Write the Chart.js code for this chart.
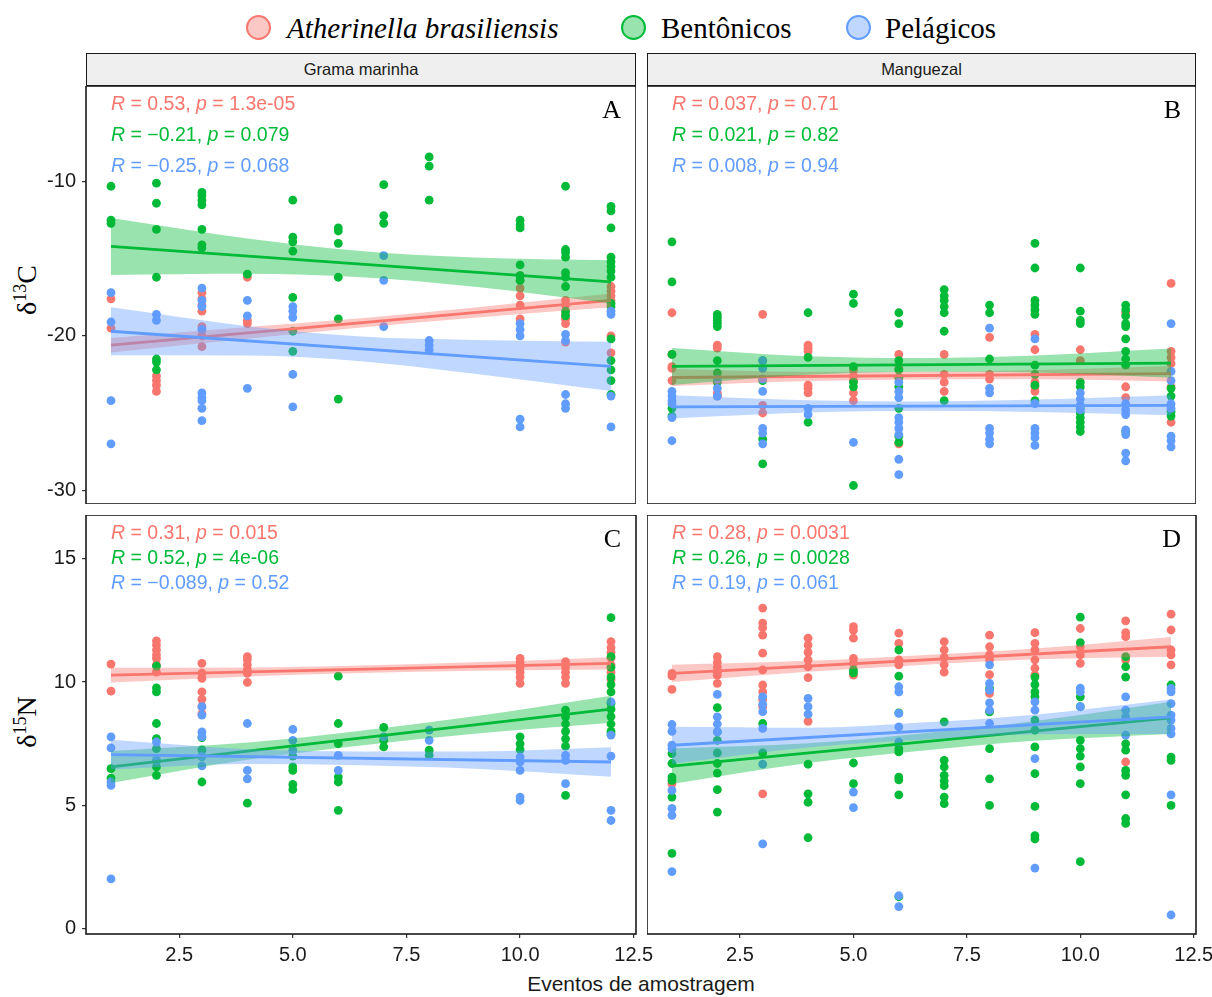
<!DOCTYPE html>
<html>
<head>
<meta charset="utf-8">
<script src="https://cdn.jsdelivr.net/npm/chart.js@4.4.1/dist/chart.umd.min.js"></script>
<style>
  html, body { margin: 0; padding: 0; background: #fff; overflow: hidden; }
  #page { position: relative; width: 1212px; height: 997px; }
  canvas { position: absolute; }
  .strip {
    position: absolute; top: 53px; height: 33px; box-sizing: border-box;
    background: #efefef; border: 1.5px solid #1a1a1a; color: #1a1a1a;
    font: 16.5px "Liberation Sans", Arial, sans-serif; text-align: center; line-height: 30px;
  }
  .dot { position: absolute; top: 15px; width: 21px; height: 21px; border-radius: 50%; border: 2.5px solid; }
  .ltext { position: absolute; top: 13px; font: 29px "Liberation Serif", "Times New Roman", serif; line-height: 30px; color: #000; white-space: nowrap; }
  .ytitle {
    position: absolute; left: -29px; width: 120px; height: 40px; line-height: 40px; text-align: center;
    font: 28px "Liberation Serif", "Times New Roman", serif; color: #000; transform: rotate(-90deg);
  }
  .ytitle sup { font-size: 18px; vertical-align: 10px; line-height: 0; }
  .xtitle {
    position: absolute; left: 441px; width: 400px; top: 972px; text-align: center; line-height: 26px;
    font: 21px "Liberation Sans", Arial, sans-serif; color: #1a1a1a;
  }
</style>
</head>
<body>
<div id="page">
  <span class="dot" style="left:246px; border-color:#F8766D; background:rgba(248,118,109,0.4)"></span>
  <span class="ltext" style="left:287px; font-style:italic">Atherinella brasiliensis</span>
  <span class="dot" style="left:621px; border-color:#00BA38; background:rgba(0,186,56,0.4)"></span>
  <span class="ltext" style="left:661px">Bentônicos</span>
  <span class="dot" style="left:846px; border-color:#619CFF; background:rgba(97,156,255,0.4)"></span>
  <span class="ltext" style="left:885px">Pelágicos</span>

  <div class="strip" style="left:86px; width:550px">Grama marinha</div>
  <div class="strip" style="left:647px; width:549px">Manguezal</div>

  <div class="ytitle" style="top:270px">δ<sup>13</sup>C</div>
  <div class="ytitle" style="top:702px">δ<sup>15</sup>N</div>
  <div class="xtitle">Eventos de amostragem</div>

  <canvas id="chartA"></canvas>
  <canvas id="chartB"></canvas>
  <canvas id="chartC"></canvas>
  <canvas id="chartD"></canvas>
</div>

<script>
// sampling events (index i -> event i + 1)
const events = [1, 2, 3, 4, 5, 6, 7, 8, 9, 10, 11, 12];
const xTicks = [2.5, 5, 7.5, 10, 12.5];
const yTicksC = [-30, -20, -10];
const yTicksN = [0, 5, 10, 15];

// ---- δ13C, Grama marinha (panel A) ----
const gramaC_ath = [[-17.6, -19.5], [-22.6, -22.9, -23.2, -23.6], [-17.2, -17.6, -18.0, -18.4, -19.4, -20.0, -20.7],
  [-16.2, -19.0, -19.2], [], [], [], [], [], [-16.1, -16.4, -16.9, -17.4, -18.0, -18.9],
  [-17.7, -18.0, -18.6, -18.9, -19.2, -20.4], [-16.8, -17.1, -17.4, -17.7, -20.0, -21.1]];
const gramaC_ben = [[-10.3, -12.5, -12.7], [-10.1, -11.4, -13.1, -16.2, -21.5, -21.7, -22.2],
  [-10.7, -10.9, -11.2, -11.5, -13.1, -14.1, -14.3], [-16.0], [-11.2, -13.6, -13.9, -14.5, -17.5, -19.7, -21.0],
  [-13.0, -13.2, -14.0, -16.2, -18.9, -24.1], [-10.2, -12.2, -12.7], [-8.4, -9.0, -11.2], [],
  [-12.5, -12.8, -13.0, -15.4, -16.1, -16.4], [-10.3, -14.4, -14.6, -14.9, -15.9, -16.2, -16.8, -18.4, -18.7],
  [-11.6, -11.9, -13.0, -14.9, -15.2, -15.5, -15.8, -16.2, -17.9, -18.1, -20.2, -21.6, -22.2, -22.9, -23.8]];
const gramaC_pel = [[-17.2, -19.1, -24.2, -27.0], [-18.6, -19.0],
  [-16.9, -17.7, -18.1, -19.6, -23.7, -24.0, -24.2, -24.7, -25.5], [-17.7, -18.7, -23.4],
  [-18.1, -18.4, -18.8, -22.5, -24.6], [], [-14.8, -16.4, -19.4], [-20.3, -20.6, -20.9], [],
  [-19.2, -19.6, -20.0, -25.4, -25.9], [-19.9, -20.3, -23.8, -24.4, -24.7], [-18.4, -18.6, -23.9, -25.9]];

// ---- δ13C, Manguezal (panel B) ----
const mangueC_ath = [[-18.5, -21.2, -22.0, -22.1, -22.9], [-20.6, -20.8, -23.7, -23.9], [-18.6, -24.5, -25.0],
  [-20.6, -20.8, -21.0, -23.2, -23.4, -23.7], [-22.2, -22.6, -22.9, -23.7, -24.2], [-21.2, -22.1, -22.7, -27.0],
  [-21.2, -22.5, -23.0, -23.6], [-20.1, -22.5, -22.8], [-19.9, -20.9, -23.0, -23.3, -23.6], [-20.9, -21.6],
  [-18.5, -23.3, -24.0], [-16.6, -21.0, -21.4, -21.8, -23.3, -25.6]];
const mangueC_ben = [[-13.9, -16.5, -21.2, -24.7, -25.2], [-18.6, -18.8, -19.0, -19.2, -19.4, -21.6, -22.4, -23.0],
  [-21.6, -22.9, -26.7, -28.3], [-18.5, -21.4, -25.6], [-17.3, -17.9, -22.0, -23.0, -23.3, -29.7],
  [-18.5, -19.2, -21.6, -22.2, -22.7, -23.3, -24.7, -26.5, -26.9], [-17.0, -17.4, -17.7, -18.1, -18.5, -19.7, -24.2],
  [-18.0, -18.5, -21.5], [-14.0, -15.6, -17.7, -18.0, -18.3, -18.6, -21.9, -22.5, -23.2, -24.2],
  [-15.6, -18.4, -19.0, -19.2, -23.0, -23.3, -24.7, -25.0, -25.3, -25.6, -25.9, -26.2],
  [-18.0, -18.3, -18.7, -19.2, -19.4, -20.2, -21.0, -21.5, -21.9, -26.2], [-23.4, -23.9, -24.9, -25.2]];
const mangueC_pel = [[-23.6, -23.9, -24.2, -24.4, -25.3, -26.8], [-22.8, -23.4, -23.9],
  [-21.6, -22.1, -22.8, -23.6, -26.0, -26.3, -27.0], [-24.7, -25.1], [-26.9],
  [-23.0, -23.6, -24.0, -25.3, -25.6, -26.0, -26.4, -28.0, -29.0], [], [-19.5, -23.4, -23.7, -26.0, -26.3, -26.7, -27.0],
  [-20.2, -24.4, -26.0, -26.3, -26.6, -27.1], [-23.7, -24.1, -24.5, -24.8], [-24.4, -24.8, -25.1, -26.1, -26.4, -27.6, -28.1],
  [-19.2, -22.3, -22.9, -24.4, -24.7, -26.5, -26.8, -27.2]];

// ---- δ15N, Grama marinha (panel C) ----
const gramaN_ath = [[10.73, 9.63], [11.67, 11.5, 11.3, 11.1, 10.95, 10.7, 10.4], [10.76, 10.36, 10.15, 9.6, 9.3, 9.0, 8.72],
  [11.03, 10.9, 10.7, 10.5, 10.35, 9.99], [], [], [], [], [], [10.96, 10.8, 10.6, 10.4, 10.2, 9.95],
  [10.83, 10.6, 10.4, 10.2, 9.95], [11.64, 11.4, 11.2, 10.97, 10.7, 10.4, 10.1]];
const gramaN_ben = [[6.49, 6.11], [10.65, 9.76, 9.6, 8.32, 7.71, 7.3, 6.8, 6.56, 6.22], [7.75, 7.25, 6.98, 5.95], [5.09],
  [7.0, 6.56, 6.42, 5.85, 5.65], [10.24, 8.32, 7.5, 6.15, 5.95, 4.8], [8.16, 7.64, 7.37], [7.24, 7.03], [],
  [7.78, 7.5, 7.26], [8.86, 8.59, 8.3, 8.0, 7.7, 7.4, 5.41],
  [12.61, 11.03, 10.6, 10.2, 9.9, 9.6, 9.13, 8.9, 8.6, 8.3, 8.0, 7.9]];
const gramaN_pel = [[7.78, 7.33, 5.95, 5.81, 2.02], [7.57, 6.83], [9.0, 8.66, 7.98, 7.78, 7.0, 6.6], [8.32, 6.42, 6.08],
  [8.08, 7.64, 7.24], [7.03, 6.42], [7.78], [8.05, 7.64], [], [6.96, 6.76, 6.42, 5.34, 5.2], [7.03, 6.83, 5.88],
  [9.2, 7.85, 7.0, 4.8, 4.39]];

// ---- δ15N, Manguezal (panel D) ----
const mangueN_ath = [[10.35, 10.25, 9.7, 5.88], [11.03, 10.8, 10.6, 10.4, 10.28, 9.95],
  [13.0, 12.39, 12.2, 11.9, 11.17, 10.49, 9.88, 9.6, 9.3, 9.0, 5.47], [11.78, 11.5, 11.2, 10.9, 10.62, 10.18, 8.41],
  [12.25, 12.1, 11.78, 10.96, 10.76, 10.28], [11.98, 11.57, 10.9, 10.7], [11.64, 11.3, 11.0, 10.7, 10.4],
  [11.9, 11.43, 11.1, 10.9, 10.3, 9.54], [12.0, 11.57, 11.3, 10.9, 10.56, 10.28], [12.17, 11.43, 11.1, 10.76],
  [12.48, 12.0, 11.84, 10.9, 6.76], [12.75, 12.11, 11.3, 11.1, 10.7]];
const mangueN_ben = [[7.1, 6.7, 6.15, 6.02, 5.34, 3.06], [8.96, 7.98, 7.64, 7.13, 6.7, 6.31, 5.64, 4.73], [8.32, 7.13],
  [6.67, 5.47, 5.13, 3.69], [10.49, 10.37, 6.72, 5.88], [11.3, 10.24, 8.75, 7.3, 7.17, 6.15, 6.04, 5.43, 1.3],
  [8.39, 6.83, 6.56, 6.22, 6.0, 5.8, 5.34, 5.07], [9.74, 8.79, 7.3, 6.08, 5.0],
  [10.2, 9.9, 9.6, 9.4, 8.46, 8.05, 7.37, 6.29, 4.96, 3.78, 3.64],
  [12.63, 11.6, 9.4, 9.0, 7.64, 7.3, 7.0, 6.56, 5.88, 2.72],
  [11.03, 10.62, 10.2, 7.5, 7.24, 6.42, 6.22, 5.43, 4.47, 4.27], [9.88, 6.96, 6.83, 5.0]];
const mangueN_pel = [[8.28, 8.0, 7.44, 7.3, 5.61, 4.88, 4.6, 2.32], [9.5, 8.59, 8.3, 7.98], [9.4, 9.1, 8.8, 8.12, 6.67, 3.44],
  [9.34, 9.0, 8.7], [5.54, 4.91], [9.81, 9.6, 8.73, 8.18, 7.57, 1.34, 0.9], [], [10.7, 9.95, 9.67, 9.16, 8.86, 8.32],
  [9.2, 8.86, 6.9, 2.46], [9.75, 9.6, 9.0], [9.4, 8.86, 8.59, 7.85],
  [9.74, 9.6, 9.13, 8.66, 8.46, 8.12, 7.9, 5.43, 0.56]];

// ---- linear fits (values at first and last event) and confidence bands ----
const fitX = [1, 12];
const bandX = [1, 4, 6.5, 9, 12];

const gramaC_fit_ath = [-20.6, -17.7];
const gramaC_hi_ath = [-20.13, -19.43, -18.85, -18.16, -17.25];
const gramaC_lo_ath = [-21.07, -20.19, -19.45, -18.82, -18.15];
const gramaC_fit_ben = [-14.2, -16.5];
const gramaC_hi_ben = [-12.35, -13.68, -14.5, -14.92, -15.1];
const gramaC_lo_ben = [-16.05, -15.98, -16.2, -16.82, -17.9];
const gramaC_fit_pel = [-19.7, -21.98];
const gramaC_hi_pel = [-18.15, -19.37, -20.04, -20.26, -20.38];
const gramaC_lo_pel = [-21.25, -21.27, -21.64, -22.46, -23.58];

const mangueC_fit_ath = [-22.7, -22.45];
const mangueC_hi_ath = [-22.15, -22.33, -22.33, -22.22, -21.95];
const mangueC_lo_ath = [-23.25, -22.93, -22.83, -22.82, -22.95];
const mangueC_fit_ben = [-21.98, -21.77];
const mangueC_hi_ben = [-20.78, -21.32, -21.43, -21.28, -20.82];
const mangueC_lo_ben = [-23.18, -22.52, -22.33, -22.38, -22.72];
const mangueC_fit_pel = [-24.6, -24.5];
const mangueC_hi_pel = [-23.85, -24.17, -24.25, -24.13, -23.85];
const mangueC_lo_pel = [-25.35, -24.97, -24.85, -24.93, -25.15];

const gramaN_fit_ath = [10.28, 10.76];
const gramaN_hi_ath = [10.58, 10.59, 10.67, 10.8, 11.01];
const gramaN_lo_ath = [9.98, 10.23, 10.37, 10.46, 10.51];
const gramaN_fit_ben = [6.56, 8.9];
const gramaN_hi_ben = [7.21, 7.55, 8.03, 8.61, 9.45];
const gramaN_lo_ben = [5.91, 6.85, 7.43, 7.91, 8.35];
const gramaN_fit_pel = [7.06, 6.76];
const gramaN_hi_pel = [7.66, 7.28, 7.19, 7.19, 7.36];
const gramaN_lo_pel = [6.46, 6.68, 6.63, 6.49, 6.16];

const mangueN_fit_ath = [10.35, 11.43];
const mangueN_hi_ath = [10.7, 10.86, 11.09, 11.36, 11.83];
const mangueN_lo_ath = [10.0, 10.42, 10.69, 10.92, 11.03];
const mangueN_fit_ben = [6.59, 8.55];
const mangueN_hi_ben = [7.31, 7.52, 7.92, 8.42, 9.2];
const mangueN_lo_ben = [5.87, 6.72, 7.22, 7.62, 7.9];
const mangueN_fit_pel = [7.44, 8.59];
const mangueN_hi_pel = [8.19, 8.15, 8.36, 8.68, 9.29];
const mangueN_lo_pel = [6.69, 7.35, 7.66, 7.88, 7.89];

// ---- correlation labels: [R, p] per group ----
const statsA = [["0.53", "1.3e-05"], ["\u22120.21", "0.079"], ["\u22120.25", "0.068"]];
const statsB = [["0.037", "0.71"], ["0.021", "0.82"], ["0.008", "0.94"]];
const statsC = [["0.31", "0.015"], ["0.52", "4e-06"], ["\u22120.089", "0.52"]];
const statsD = [["0.28", "0.0031"], ["0.26", "0.0028"], ["0.19", "0.061"]];
const statYC = [-5, -7, -9];
const statYN = [16, 15, 14];

const COLORS = ["#F8766D", "#00BA38", "#619CFF"];
const FILLS = ["rgba(248,118,109,0.4)", "rgba(0,186,56,0.4)", "rgba(97,156,255,0.4)"];
const SANS = '"Liberation Sans", Arial, sans-serif';
const SERIF = '"Liberation Serif", "Times New Roman", serif';

const toPoints = (byEvent) => {
  const pts = [];
  byEvent.forEach((vals, i) => vals.forEach((v) => pts.push({ x: events[i], y: v })));
  return pts;
};

// panel border, stat_cor text and the panel letter
const panelDecor = {
  id: "panelDecor",
  afterDatasetsDraw(chart, args, opts) {
    const { ctx, chartArea: a, scales } = chart;
    ctx.save();
    ctx.textBaseline = "middle";
    ctx.textAlign = "left";
    opts.stats.forEach(([r, p], g) => {
      let x = scales.x.getPixelForValue(1);
      const y = scales.y.getPixelForValue(opts.statY[g]);
      ctx.fillStyle = COLORS[g];
      const parts = [["R", true], [" = " + r + ", ", false], ["p", true], [" = " + p, false]];
      parts.forEach(([txt, italic]) => {
        ctx.font = (italic ? "italic " : "") + "19.5px " + SANS;
        ctx.fillText(txt, x, y);
        x += ctx.measureText(txt).width;
      });
    });
    ctx.fillStyle = "#000";
    ctx.textAlign = "right";
    ctx.font = "26px " + SERIF;
    ctx.fillText(opts.tag, a.right - 15, a.top + 25);
    ctx.lineWidth = 1.6;
    ctx.strokeStyle = "#1a1a1a";
    ctx.strokeRect(a.left, a.top, a.right - a.left, a.bottom - a.top);
    ctx.restore();
  },
};

function buildDatasets(pts, fits, his, los) {
  const sets = [];
  pts.forEach((p, g) => {
    sets.push({
      type: "scatter", data: toPoints(p), backgroundColor: COLORS[g], borderWidth: 0,
      pointRadius: 4.4, order: 30 - g,
    });
  });
  fits.forEach((f, g) => {
    const base = 20 - g * 3;
    sets.push({
      type: "line", data: bandX.map((x, i) => ({ x, y: his[g][i] })), borderWidth: 0, pointRadius: 0,
      fill: false, cubicInterpolationMode: "monotone", order: base,
    });
    sets.push({
      type: "line", data: bandX.map((x, i) => ({ x, y: los[g][i] })), borderWidth: 0, pointRadius: 0,
      fill: "-1", backgroundColor: FILLS[g], cubicInterpolationMode: "monotone", order: base,
    });
    sets.push({
      type: "line", data: fitX.map((x, i) => ({ x, y: f[i] })), borderColor: COLORS[g], borderWidth: 2.8,
      pointRadius: 0, fill: false, order: base - 1,
    });
  });
  return sets;
}

function makePanel(cfg) {
  const canvas = document.getElementById(cfg.id);
  canvas.width = cfg.width;
  canvas.height = cfg.height;
  canvas.style.left = cfg.left + "px";
  canvas.style.top = cfg.top + "px";
  canvas.style.width = cfg.width + "px";
  canvas.style.height = cfg.height + "px";
  const tickFont = { family: SANS, size: 20 };
  new Chart(canvas, {
    type: "scatter",
    data: { datasets: buildDatasets(cfg.pts, cfg.fits, cfg.his, cfg.los) },
    options: {
      responsive: false,
      animation: false,
      devicePixelRatio: 1,
      events: [],
      layout: { autoPadding: false, padding: { left: 0, top: 0, right: cfg.padRight, bottom: 0 } },
      plugins: {
        legend: { display: false },
        tooltip: { enabled: false },
        panelDecor: { stats: cfg.stats, statY: cfg.statY, tag: cfg.tag },
      },
      scales: {
        x: {
          type: "linear", min: 0.45, max: 12.55, display: cfg.showX,
          afterBuildTicks: (ax) => { ax.ticks = xTicks.map((v) => ({ value: v })); },
          ticks: { font: tickFont, color: "#1a1a1a", padding: 5, maxRotation: 0, autoSkip: false,
            callback: (v) => Number(v).toFixed(1) },
          grid: { drawOnChartArea: false, drawTicks: true, tickLength: 4, color: "#333", lineWidth: 1.2 },
          border: { display: false },
          afterFit: (s) => {
            if (!cfg.showX) return;
            s.height = 40; s.paddingLeft = 0; s.paddingRight = 0;
          },
        },
        y: {
          type: "linear", min: cfg.yMin, max: cfg.yMax, display: cfg.showY,
          afterBuildTicks: (ax) => { ax.ticks = cfg.yTicks.map((v) => ({ value: v })); },
          ticks: { font: tickFont, color: "#1a1a1a", padding: 6, autoSkip: false },
          grid: { drawOnChartArea: false, drawTicks: true, tickLength: 4, color: "#333", lineWidth: 1.2 },
          border: { display: false },
          afterFit: (s) => {
            if (!cfg.showY) return;
            s.width = 86; s.paddingTop = 0; s.paddingBottom = 0;
          },
        },
      },
    },
    plugins: [panelDecor],
  });
}

makePanel({ id: "chartA", left: 0, top: 86, width: 636, height: 418, padRight: 0, showX: false, showY: true,
  yMin: -30.9, yMax: -3.8, yTicks: yTicksC, tag: "A", stats: statsA, statY: statYC,
  pts: [gramaC_ath, gramaC_ben, gramaC_pel], fits: [gramaC_fit_ath, gramaC_fit_ben, gramaC_fit_pel],
  his: [gramaC_hi_ath, gramaC_hi_ben, gramaC_hi_pel], los: [gramaC_lo_ath, gramaC_lo_ben, gramaC_lo_pel] });

makePanel({ id: "chartB", left: 647, top: 86, width: 549, height: 418, padRight: 0, showX: false, showY: false,
  yMin: -30.9, yMax: -3.8, yTicks: yTicksC, tag: "B", stats: statsB, statY: statYC,
  pts: [mangueC_ath, mangueC_ben, mangueC_pel], fits: [mangueC_fit_ath, mangueC_fit_ben, mangueC_fit_pel],
  his: [mangueC_hi_ath, mangueC_hi_ben, mangueC_hi_pel], los: [mangueC_lo_ath, mangueC_lo_ben, mangueC_lo_pel] });

makePanel({ id: "chartC", left: 0, top: 515, width: 656, height: 459, padRight: 20, showX: true, showY: true,
  yMin: -0.21, yMax: 16.77, yTicks: yTicksN, tag: "C", stats: statsC, statY: statYN,
  pts: [gramaN_ath, gramaN_ben, gramaN_pel], fits: [gramaN_fit_ath, gramaN_fit_ben, gramaN_fit_pel],
  his: [gramaN_hi_ath, gramaN_hi_ben, gramaN_hi_pel], los: [gramaN_lo_ath, gramaN_lo_ben, gramaN_lo_pel] });

makePanel({ id: "chartD", left: 647, top: 515, width: 565, height: 459, padRight: 16, showX: true, showY: false,
  yMin: -0.21, yMax: 16.77, yTicks: yTicksN, tag: "D", stats: statsD, statY: statYN,
  pts: [mangueN_ath, mangueN_ben, mangueN_pel], fits: [mangueN_fit_ath, mangueN_fit_ben, mangueN_fit_pel],
  his: [mangueN_hi_ath, mangueN_hi_ben, mangueN_hi_pel], los: [mangueN_lo_ath, mangueN_lo_ben, mangueN_lo_pel] });
</script>
</body>
</html>
